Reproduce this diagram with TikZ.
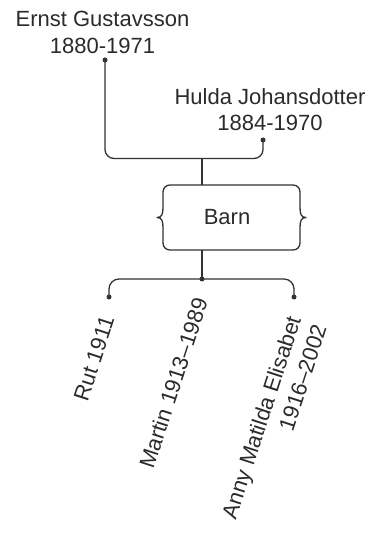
\documentclass[tikz,border=0pt]{standalone}
\usepackage{fontspec}
\setmainfont{Liberation Sans}
\usetikzlibrary{calc}
\definecolor{ink}{HTML}{2B2B2B}
\definecolor{linec}{HTML}{333333}
\tikzset{
  conn/.style={draw=linec, line width=1.3pt},
  dot/.style={circle, fill=linec, inner sep=0pt, minimum size=5pt},
  person/.style={inner sep=0pt, align=center, text=ink, font=\fontsize{22}{26.5}\selectfont},
  child/.style={inner sep=0pt, align=right, text=ink, rotate=72, anchor=north east, font=\fontsize{22}{27}\selectfont},
  boxtext/.style={inner sep=0pt, text=ink, font=\fontsize{22}{26}\selectfont}
}
\begin{document}
\begin{tikzpicture}[x=1pt,y=-1pt]
\useasboundingbox (0,0) rectangle (379,534);
% parents
\node[person, anchor=north] (ernst) at (102.5,11) {Ernst Gustavsson\\1880-1971};
\node[person, anchor=north] (hulda) at (270,88) {Hulda Johansdotter\\1884-1970};
\node[dot] (ed) at (105,60) {};
\node[dot] (hd) at (263,140) {};
\coordinate (pj) at (202,158.5);
\draw[conn, rounded corners=9] (ed.center) |- (pj) -| (hd.center);
% box
\node[boxtext] (barn) at (227,217) {Barn};
\coordinate (bt) at (202,185);
\coordinate (bb) at (202,250);
\draw[conn] (pj) -- (bt);
\draw[conn, line join=round] (170,185) -- (293,185)
  .. controls (297,185) and (300,188) .. (300,192)
  -- (300,207)
  .. controls (300,214) and (301,217.5) .. (306,217.5)
  .. controls (301,217.5) and (300,221) .. (300,228)
  -- (300,243)
  .. controls (300,247) and (297,250) .. (293,250)
  -- (170,250)
  .. controls (166,250) and (163,247) .. (163,243)
  -- (163,228)
  .. controls (163,221) and (162,217.5) .. (157,217.5)
  .. controls (162,217.5) and (163,214) .. (163,207)
  -- (163,192)
  .. controls (163,188) and (166,185) .. (170,185) -- cycle;
% children connector
\node[dot] (cj) at (202,279) {};
\node[dot] (rd) at (109,297) {};
\node[dot] (ad) at (294,297) {};
\draw[conn] (bb) -- (cj.center);
\draw[conn, rounded corners=10] (rd.center) |- (cj.center) -| (ad.center);
% children
\node[child] (rut) at ($(rd)+(-9,17)$) {Rut 1911};
\node[child] (martin) at ($(cj)+(-9,17)$) {Martin 1913–1989};
\node[child] (anny) at ($(ad)+(-8,17)$) {Anny Matilda Elisabet\\1916–2002};
\end{tikzpicture}
\end{document}
